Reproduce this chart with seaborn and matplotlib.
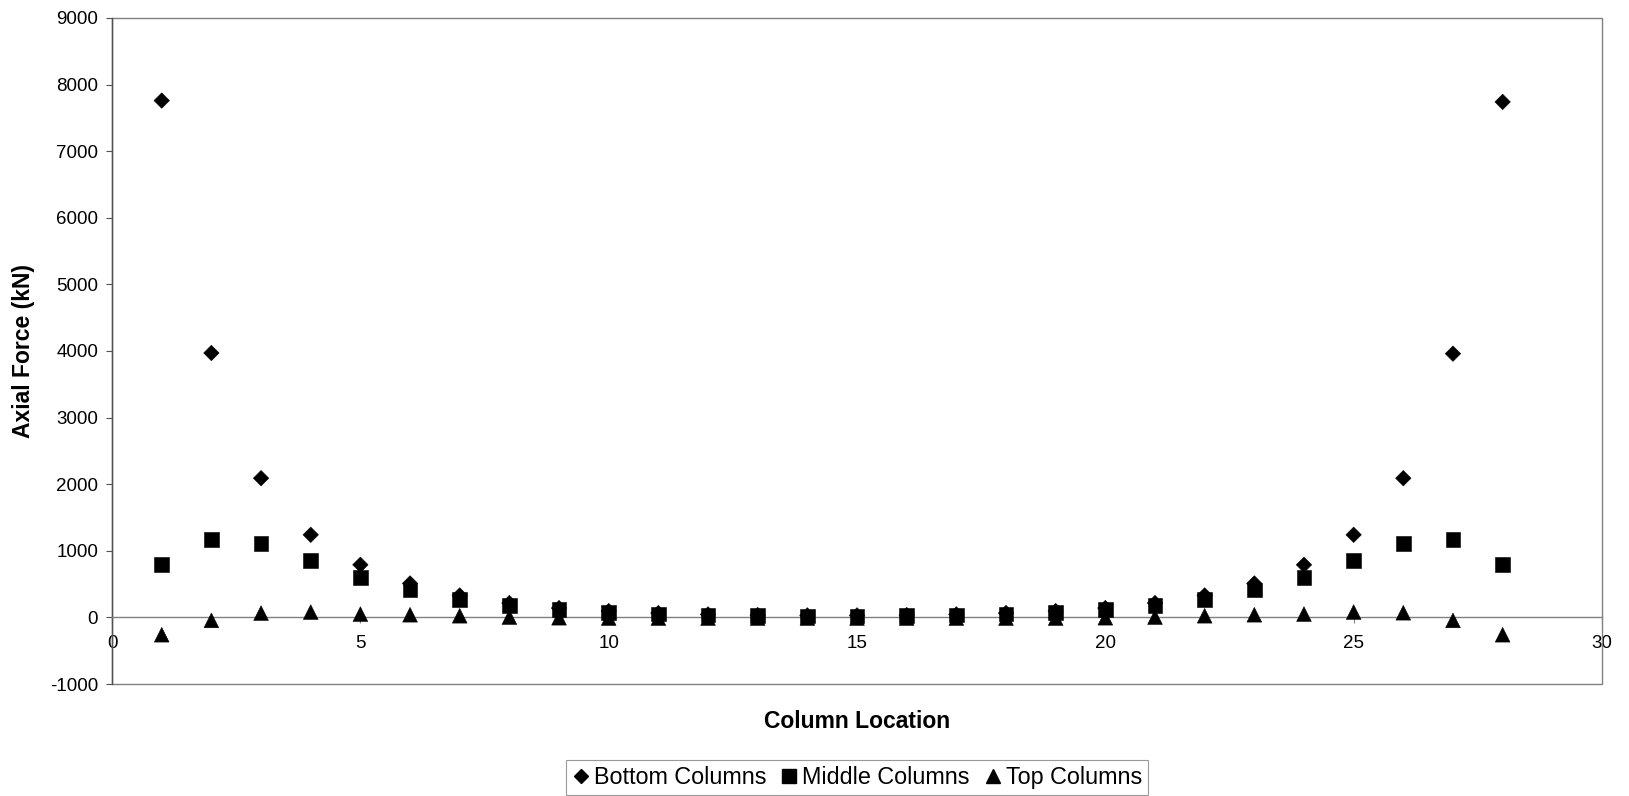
import matplotlib
matplotlib.use("Agg")
import matplotlib.pyplot as plt
from matplotlib.patches import Rectangle
import numpy as np
import pandas as pd
import seaborn as sns

# Axial force per column (kN) along the frame, for three storey levels
column_location = list(range(1, 29))
bottom_columns = [7760, 3970, 2090, 1240, 790, 510, 330, 215, 140, 95, 65, 45, 35, 30,
                  30, 35, 45, 65, 95, 140, 215, 330, 510, 790, 1240, 2090, 3960, 7740]
middle_columns = [790, 1170, 1110, 850, 595, 410, 270, 180, 115, 75, 50, 35, 25, 20,
                  20, 25, 35, 50, 75, 115, 180, 270, 410, 595, 850, 1110, 1170, 790]
top_columns = [-260, -45, 65, 80, 50, 40, 25, 5, -5, -10, -10, -10, -10, -10,
               -10, -10, -10, -10, -10, -5, 5, 25, 40, 50, 80, 70, -45, -260]

series_names = ["Bottom Columns", "Middle Columns", "Top Columns"]
x_ticks = [0, 5, 10, 15, 20, 25, 30]
y_ticks = [-1000, 0, 1000, 2000, 3000, 4000, 5000, 6000, 7000, 8000, 9000]

df = pd.DataFrame({
    "Column Location": column_location * 3,
    "Axial Force (kN)": bottom_columns + middle_columns + top_columns,
    "Series": [series_names[0]] * 28 + [series_names[1]] * 28 + [series_names[2]] * 28,
})

sns.set_style("white")
plt.rcParams["font.family"] = ["Liberation Sans", "DejaVu Sans"]
plt.rcParams["axes.unicode_minus"] = False
plt.rcParams["text.color"] = "black"
plt.rcParams["axes.labelcolor"] = "black"

fig = plt.figure(figsize=(16.29, 7.96), dpi=100)
ax = fig.add_axes([0.0688, 0.1407, 0.9834 - 0.0688, 0.9774 - 0.1407])

markers = {series_names[0]: "D", series_names[1]: "s", series_names[2]: "^"}
sizes = {series_names[0]: 62, series_names[1]: 112, series_names[2]: 112}
sns.scatterplot(data=df, x="Column Location", y="Axial Force (kN)",
                style="Series", size="Series", markers=markers, sizes=sizes,
                color="black", edgecolor="black", linewidth=0.4, ax=ax,
                legend=False, zorder=3)

ax.set_xlim(0, 30)
ax.set_ylim(-1000, 9000)
ax.set_xticks(x_ticks)
ax.set_yticks(y_ticks)
ax.set_xticklabels([str(v) for v in x_ticks])
ax.set_yticklabels([str(v) for v in y_ticks])

# Category axis crosses the value axis at zero
frame_grey = "#808080"
for side in ["top", "right"]:
    ax.spines[side].set_visible(False)
ax.spines["bottom"].set_position(("data", 0))
ax.spines["bottom"].set_color(frame_grey)
ax.spines["bottom"].set_linewidth(1.0)
ax.spines["left"].set_color("#505050")
ax.spines["left"].set_linewidth(1.0)
ax.add_patch(Rectangle((0, 0), 1, 1, transform=ax.transAxes, fill=False,
                       edgecolor=frame_grey, linewidth=1.0, clip_on=False, zorder=1))

ax.tick_params(axis="y", direction="out", length=4, width=0.8, color="#505050",
               pad=6, labelsize=13.5, labelcolor="black", left=True)
ax.tick_params(axis="x", direction="out", length=4, width=0.8, color=frame_grey,
               pad=9, labelsize=13.5, labelcolor="black", bottom=True)

ax.set_xlabel("Column Location", fontsize=16.5, fontweight="bold", color="black")
ax.set_ylabel("Axial Force (kN)", fontsize=16.5, fontweight="bold", color="black")
ax.xaxis.set_label_coords(0.5, -0.0556)
ax.xaxis.label.set_va("center")
ax.yaxis.set_label_coords(-0.0597, 0.5)
ax.yaxis.label.set_va("center")

handles = [
    plt.Line2D([], [], linestyle="none", marker=markers[n], color="black",
               markersize={"D": 7, "s": 10, "^": 10}[markers[n]])
    for n in series_names
]
leg = fig.legend(handles, series_names, loc="center", bbox_to_anchor=(0.526, 0.0232),
                 ncol=3, fontsize=16.8, frameon=True, fancybox=False,
                 edgecolor=frame_grey, borderpad=0.25, handletextpad=0.15,
                 columnspacing=0.6, handlelength=0.8, borderaxespad=0)
leg.get_frame().set_linewidth(0.8)
for txt in leg.get_texts():
    txt.set_color("black")

fig.savefig("out.png", dpi=100, facecolor="white")
